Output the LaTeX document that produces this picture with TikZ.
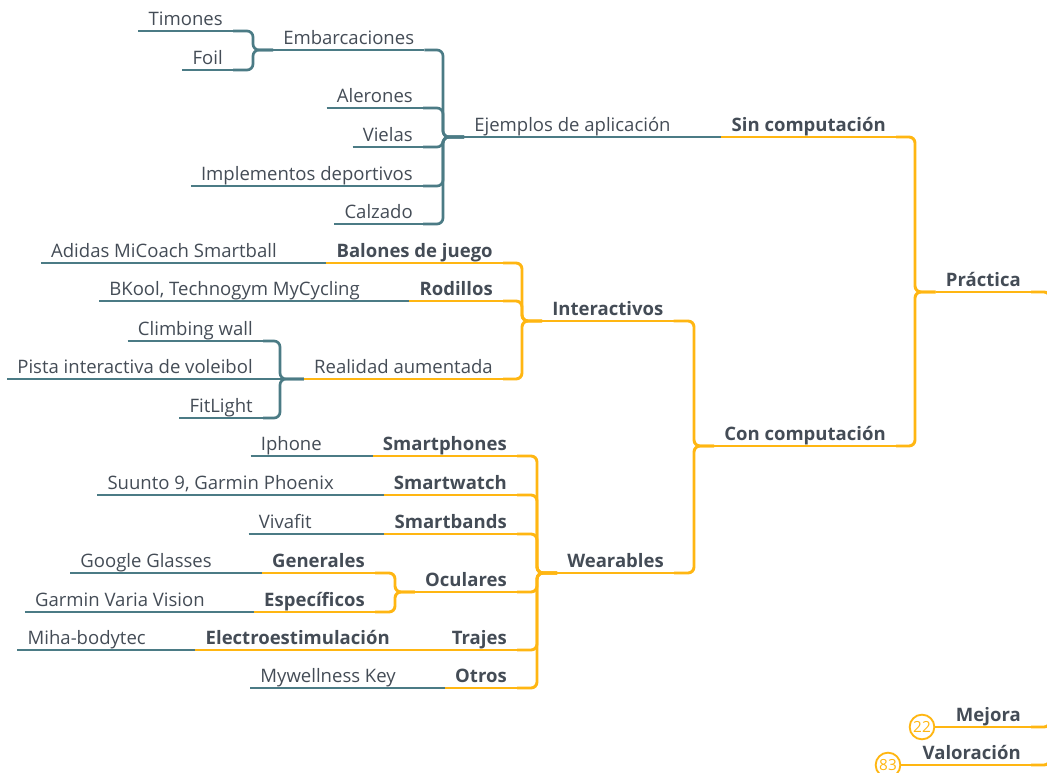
\documentclass[tikz,border=0pt]{standalone}
\usepackage{fontspec}
\setmainfont{Open Sans}
\definecolor{branchteal}{HTML}{4B7B85}
\definecolor{branchgold}{HTML}{FFB612}
\definecolor{ink}{HTML}{444C56}
\begin{document}
\begin{tikzpicture}[x=0.75pt,y=-0.75pt,
  lbl/.style={inner xsep=7.5pt,inner ysep=0pt,text height=10pt,text depth=3.75pt,
    text=ink,font=\fontsize{13.9}{16}\selectfont},
  hd/.style={lbl,font=\fontsize{13.9}{16}\selectfont\bfseries},
  tl/.style={draw=branchteal,line width=2pt,rounded corners=4.5pt},
  yl/.style={draw=branchgold,line width=2.2pt,rounded corners=4.5pt},
  cnt/.style={circle,draw=branchgold,line width=1.4pt,text=branchgold,inner sep=0pt,
    minimum size=18.5pt,font=\fontsize{11.5}{12}\selectfont}
]
\useasboundingbox (0,0) rectangle (1047,773);
\clip (0,0) rectangle (1047,773);

% ---- spine points where sibling branches meet ----
\coordinate (sp-emb) at (253,50);
\coordinate (sp-eje) at (443,137);
\coordinate (sp-pra) at (915,292);
\coordinate (sp-con) at (694,446);
\coordinate (sp-int) at (522,321);
\coordinate (sp-wea) at (537,573);
\coordinate (sp-rea) at (280,379);
\coordinate (sp-ocu) at (395,592);
\coordinate (root)   at (1050,500);

% ---- Sin computación ----
\node[lbl,anchor=south east] (tim) at (233,31) {Timones};
\node[lbl,anchor=south east] (foil) at (233,70) {Foil};
\node[lbl,anchor=south west] (emb) at (273,50) {Embarcaciones};
\node[lbl,anchor=south east] (ale) at (423,108) {Alerones};
\node[lbl,anchor=south east] (vie) at (423,147) {Vielas};
\node[lbl,anchor=south east] (imp) at (423,186) {Implementos deportivos};
\node[lbl,anchor=south east] (cal) at (423,224) {Calzado};
\node[lbl,anchor=south west] (eje) at (464,137) {Ejemplos de aplicación};
\node[hd,anchor=south east] (sin) at (896,137) {Sin computación};

% ---- root branches ----
\node[hd,anchor=south east] (pra) at (1031,292) {Práctica};
\node[hd,anchor=south east] (mej) at (1031,727) {Mejora};
\node[hd,anchor=south east] (val) at (1031,765) {Valoración};
\node[cnt] (c22) at (922,727) {22};
\node[cnt] (c83) at (888,765) {83};

% ---- Con computación ----
\node[hd,anchor=south west] (con) at (714,446) {Con computación};
\node[hd,anchor=south west] (int) at (542,321) {Interactivos};
\node[hd,anchor=south west] (wea) at (557,573) {Wearables};

% Interactivos
\node[hd,anchor=south east] (bal) at (503,263) {Balones de juego};
\node[hd,anchor=south east] (rod) at (503,301) {Rodillos};
\node[lbl,anchor=south east] (rea) at (503,379) {Realidad aumentada};
\node[lbl,anchor=south east] (adi) at (287,263) {Adidas MiCoach Smartball};
\node[lbl,anchor=south east] (bko) at (370,301) {BKool, Technogym MyCycling};
\node[lbl,anchor=south east] (cli) at (263,341) {Climbing wall};
\node[lbl,anchor=south east] (pis) at (263,379) {Pista interactiva de voleibol};
\node[lbl,anchor=south east] (fit) at (263,418) {FitLight};

% Wearables
\node[hd,anchor=south east] (sph) at (517,456) {Smartphones};
\node[hd,anchor=south east] (swa) at (517,495) {Smartwatch};
\node[hd,anchor=south east] (sba) at (517,534) {Smartbands};
\node[hd,anchor=south east] (ocu) at (517,592) {Oculares};
\node[hd,anchor=south east] (tra) at (517,650) {Trajes};
\node[hd,anchor=south east] (otr) at (517,688) {Otros};
\node[hd,anchor=south east] (gen) at (375,573) {Generales};
\node[hd,anchor=south east] (esp) at (375,612) {Específicos};
\node[hd,anchor=south east] (ele) at (400,650) {Electroestimulación};
\node[lbl,anchor=south east] (iph) at (332,456) {Iphone};
\node[lbl,anchor=south east] (suu) at (344,495) {Suunto 9, Garmin Phoenix};
\node[lbl,anchor=south east] (viv) at (322,534) {Vivafit};
\node[lbl,anchor=south east] (goo) at (222,573) {Google Glasses};
\node[lbl,anchor=south east] (gar) at (215,612) {Garmin Varia Vision};
\node[lbl,anchor=south east] (mih) at (156,650) {Miha-bodytec};
\node[lbl,anchor=south east] (myw) at (406,688) {Mywellness Key};

% ---- underlines ----
\foreach \n in {tim,foil,emb,ale,vie,imp,cal,eje,adi,bko,cli,pis,fit,iph,suu,viv,goo,gar,mih,myw}
  \draw[tl] (\n.south west) -- (\n.south east);
\foreach \n in {sin,pra,mej,val,con,int,wea,bal,rod,rea,sph,swa,sba,ocu,tra,otr,gen,esp,ele}
  \draw[yl] (\n.south west) -- (\n.south east);

% ---- teal connectors ----
\foreach \c in {tim,foil}
  \draw[tl] (\c.south east) -| (sp-emb) -- (emb.south west);
\foreach \c in {emb,ale,vie,imp,cal}
  \draw[tl] (\c.south east) -| (sp-eje) -- (eje.south west);
\draw[tl] (eje.south east) -- (sin.south west);
\draw[tl] (adi.south east) -- (bal.south west);
\draw[tl] (bko.south east) -- (rod.south west);
\foreach \c in {cli,fit}
  \draw[tl] (\c.south east) -| (sp-rea) -- (rea.south west);
\draw[tl] (pis.south east) -- (rea.south west);
\draw[tl] (iph.south east) -- (sph.south west);
\draw[tl] (suu.south east) -- (swa.south west);
\draw[tl] (viv.south east) -- (sba.south west);
\draw[tl] (goo.south east) -- (gen.south west);
\draw[tl] (gar.south east) -- (esp.south west);
\draw[tl] (mih.south east) -- (ele.south west);
\draw[tl] (myw.south east) -- (otr.south west);

% ---- gold connectors ----
\foreach \c in {sin,con}
  \draw[yl] (\c.south east) -| (sp-pra) -- (pra.south west);
\foreach \c in {int,wea}
  \draw[yl] (\c.south east) -| (sp-con) -- (con.south west);
\foreach \c in {bal,rod,rea}
  \draw[yl] (\c.south east) -| (sp-int) -- (int.south west);
\foreach \c in {sph,swa,sba,ocu,tra,otr}
  \draw[yl] (\c.south east) -| (sp-wea) -- (wea.south west);
\foreach \c in {gen,esp}
  \draw[yl] (\c.south east) -| (sp-ocu) -- (ocu.south west);
\draw[yl] (ele.south east) -- (tra.south west);
\foreach \c in {pra,mej,val}
  \draw[yl] (\c.south east) -| (root);
\draw[yl] (c22.east) -- (mej.south west);
\draw[yl] (c83.east) -- (val.south west);
\end{tikzpicture}
\end{document}
